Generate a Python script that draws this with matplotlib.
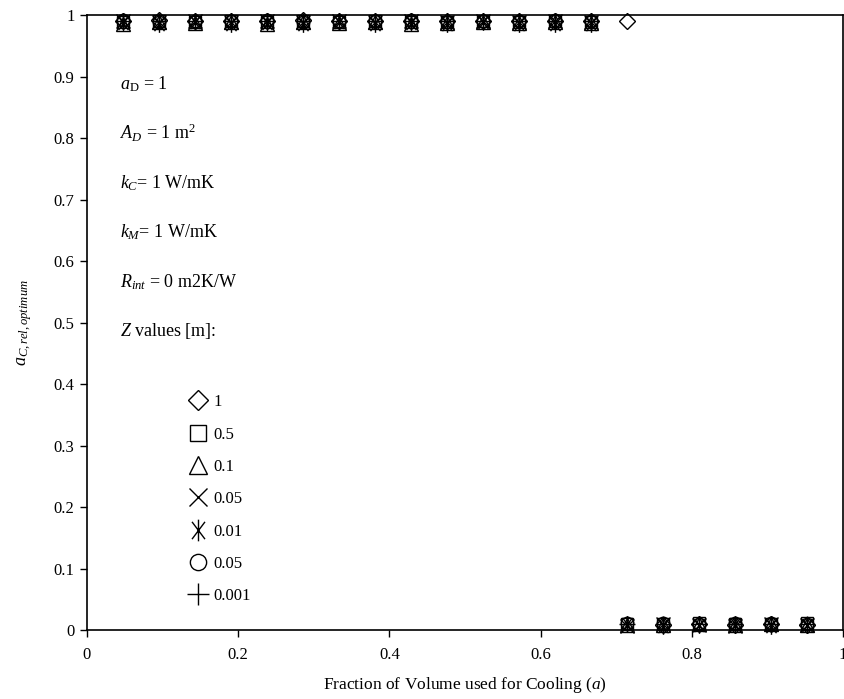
import numpy as np
import matplotlib
matplotlib.use('Agg')
import matplotlib.pyplot as plt
from matplotlib.path import Path
from matplotlib.ticker import FormatStrFormatter

plt.rcParams['font.family'] = ['Liberation Serif', 'DejaVu Serif']
plt.rcParams['mathtext.fontset'] = 'custom'
plt.rcParams['mathtext.rm'] = 'Liberation Serif'
plt.rcParams['mathtext.it'] = 'Liberation Serif:italic'
plt.rcParams['mathtext.bf'] = 'Liberation Serif:bold'
plt.rcParams['font.size'] = 12

# fraction of volume used for cooling
frac = [0.048, 0.095, 0.143, 0.190, 0.238, 0.286, 0.333, 0.381, 0.429, 0.476,
        0.524, 0.571, 0.619, 0.667, 0.714, 0.762, 0.810, 0.857, 0.905, 0.952]

# optimum a_C,rel for each Z value
z_1 = [0.990, 0.992, 0.990, 0.991, 0.990, 0.992, 0.990, 0.991, 0.990, 0.991,
       0.990, 0.991, 0.990, 0.991, 0.990, 0.008, 0.009, 0.008, 0.009, 0.008]
z_05 = [0.988, 0.990, 0.989, 0.990, 0.988, 0.990, 0.989, 0.990, 0.988, 0.989,
        0.990, 0.989, 0.990, 0.989, 0.010, 0.010, 0.011, 0.010, 0.010, 0.011]
z_01 = [0.986, 0.988, 0.987, 0.988, 0.986, 0.988, 0.987, 0.988, 0.986, 0.987,
        0.988, 0.987, 0.988, 0.987, 0.008, 0.008, 0.009, 0.008, 0.009, 0.008]
z_005 = [0.990, 0.988, 0.991, 0.989, 0.990, 0.988, 0.991, 0.989, 0.990, 0.988,
         0.991, 0.989, 0.990, 0.988, 0.007, 0.009, 0.008, 0.007, 0.009, 0.008]
z_001 = [0.987, 0.985, 0.988, 0.986, 0.987, 0.985, 0.988, 0.986, 0.987, 0.985,
         0.988, 0.986, 0.985, 0.986, 0.009, 0.007, 0.008, 0.009, 0.007, 0.008]
z_0005 = [0.992, 0.989, 0.991, 0.990, 0.992, 0.989, 0.991, 0.990, 0.992, 0.989,
          0.991, 0.990, 0.992, 0.990, 0.011, 0.012, 0.010, 0.011, 0.012, 0.010]
z_0001 = [0.991, 0.990, 0.991, 0.990, 0.991, 0.990, 0.991, 0.990, 0.991, 0.990,
          0.991, 0.990, 0.991, 0.990, 0.009, 0.010, 0.009, 0.010, 0.009, 0.010]

labels = ['1', '0.5', '0.1', '0.05', '0.01', '0.05', '0.001']

asterisk = Path([(0, -1), (0, 1), (-0.6, -0.8), (0.6, 0.8), (-0.6, 0.8), (0.6, -0.8)],
                [Path.MOVETO, Path.LINETO, Path.MOVETO, Path.LINETO, Path.MOVETO, Path.LINETO])

styles = [('D', 8), ('s', 9), ('^', 10), ('x', 10), (asterisk, 12), ('o', 9), ('+', 12)]
series = [z_1, z_05, z_01, z_005, z_001, z_0005, z_0001]

fig = plt.figure(figsize=(8.44, 6.99), dpi=100)
ax = fig.add_axes([0.103, 0.0987, 0.896, 0.8798])

handles = []
for ys, (m, ms) in zip(series, styles):
    h, = ax.plot(frac, ys, linestyle='none', marker=m, markersize=ms,
                 markerfacecolor='none', markeredgecolor='black', markeredgewidth=1.0,
                 clip_on=False)
    handles.append(h)

ax.set_xlim(0, 1)
ax.set_ylim(0, 1)
ax.set_xticks(np.arange(0, 1.01, 0.2))
ax.set_yticks(np.arange(0, 1.01, 0.1))
ax.xaxis.set_major_formatter(FormatStrFormatter('%g'))
ax.yaxis.set_major_formatter(FormatStrFormatter('%g'))
ax.tick_params(direction='out', length=5, width=1, labelsize=12)
ax.tick_params(axis='y', pad=4)
ax.tick_params(axis='x', pad=7)
for s in ax.spines.values():
    s.set_linewidth(1.2)

ax.set_xlabel('Fraction of Volume used for Cooling ($a$)', fontsize=12.5, labelpad=9)
ax.set_ylabel('$a_{C,rel,optimum}$', fontsize=13, labelpad=14)

notes = [r'$a_{\mathrm{D}}$ = 1', r'$A_D$ = 1 m$^2$', r'$k_C$= 1 W/mK',
         r'$k_M$= 1 W/mK', r'$R_{int}$ = 0 m2K/W', r'$Z$ values [m]:']
for i, t in enumerate(notes):
    ax.text(0.044, 0.888 - i * 0.0805, t, transform=ax.transAxes, fontsize=13, va='center')

ax.legend(handles, labels, loc='upper left', bbox_to_anchor=(0.125, 0.397), frameon=False,
          handlelength=1.0, handletextpad=0.4, labelspacing=0.98, markerscale=1.3,
          numpoints=1, fontsize=12, borderpad=0)

fig.savefig('out.png', dpi=100)
